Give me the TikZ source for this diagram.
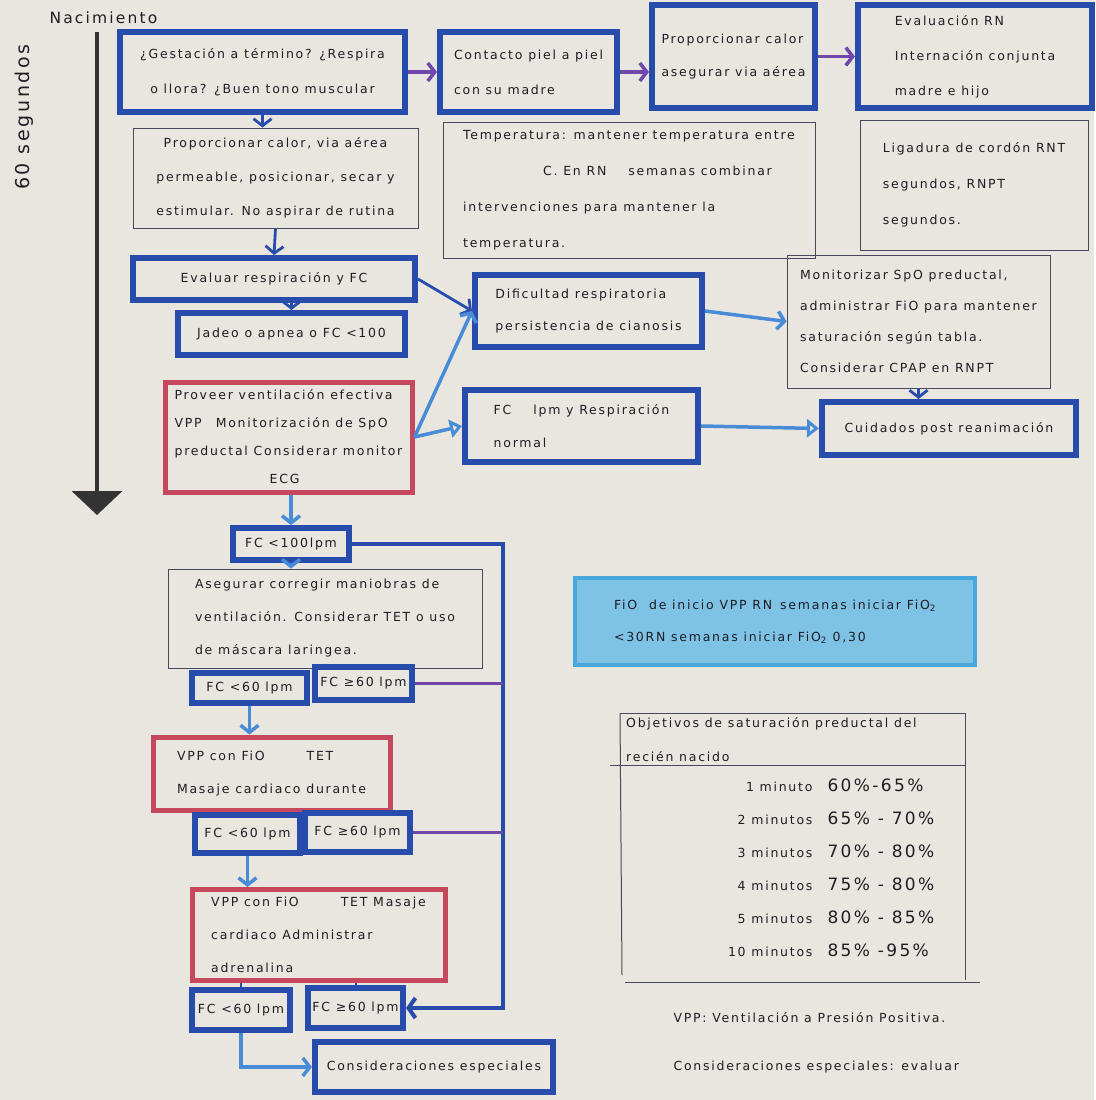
\documentclass[tikz,border=0pt]{standalone}
\usepackage{fontspec}
\setmainfont{DejaVu Sans}[LetterSpace=14]
\usetikzlibrary{arrows.meta}

\definecolor{paper}{RGB}{233,230,223}
\definecolor{penblue}{RGB}{40,76,172}
\definecolor{penred}{RGB}{198,72,92}
\definecolor{lightblue}{RGB}{72,140,215}
\definecolor{penpurple}{RGB}{112,72,172}
\definecolor{pencil}{RGB}{72,72,92}
\definecolor{ink}{RGB}{30,30,36}
\definecolor{crayon}{RGB}{70,168,220}

\newcommand\hand[1]{\fontsize{12.5}{#1}\selectfont}

\begin{document}
\begin{tikzpicture}[x=1pt,y=-1pt,
    every node/.style={text=ink},
    bluebox/.style={draw=penblue,line width=6pt,inner sep=4pt,font=\hand{33}},
    redbox/.style={draw=penred,line width=5pt,inner sep=4pt,font=\hand{33}},
    thinbox/.style={draw=pencil,line width=0.9pt,inner sep=4pt,font=\hand{34}},
    arr/.style={draw=penblue,line width=2.8pt,-{Straight Barb[length=7pt,width=18pt]}},
    parr/.style={draw=penpurple,line width=3.5pt,-{Straight Barb[length=7pt,width=18pt]}},
    larr/.style={draw=lightblue,line width=3.5pt,-{Straight Barb[length=7pt,width=18pt]}},
    ltri/.style={draw=lightblue,line width=3.5pt,-{Triangle[open,length=12pt,width=18pt]}},
    rail/.style={draw=penblue,line width=4pt},
    prail/.style={draw=penpurple,line width=2.5pt}]
  \fill[paper] (0,0) rectangle (1094,1100);

  % linea de tiempo
  \node[anchor=west,font=\fontsize{15.5}{15.5}\selectfont] (nac) at (46,18) {Nacimiento};
  \node[rotate=90,font=\fontsize{19}{19}\selectfont] (seg) at (24,117) {60 segundos};
  \coordinate (t0) at (97,32);
  \coordinate (t1) at (97,515);
  \draw[line width=4pt,black!80,-{Triangle[width=50pt,length=24pt]}] (t0) -- (t1);

  % fila superior
  \node[bluebox,minimum width=285,minimum height=80,align=center,font=\hand{35}] (gest) at (262.5,72)
    {¿Gestación a término? ¿Respira\\o llora? ¿Buen tono muscular};
  \node[bluebox,minimum width=177,minimum height=80,align=left,font=\hand{35}] (contacto) at (528.5,72)
    {Contacto piel a piel\\con su madre};
  \node[bluebox,minimum width=163,minimum height=103,align=left] (calor) at (733.5,56.5)
    {Proporcionar calor\\asegurar via aérea};
  \node[bluebox,minimum width=234,minimum height=103,align=left,font=\hand{35}] (evalrn) at (975,56.5)
    {Evaluación RN\\Internación conjunta\\madre e hijo};

  \node[thinbox,minimum width=285,minimum height=100,align=center] (prop) at (275.5,178)
    {Proporcionar calor, via aérea\\permeable, posicionar, secar y\\estimular. No aspirar de rutina};
  \node[thinbox,minimum width=372,minimum height=136,align=left,font=\hand{36}] (temp) at (629,190)
    {Temperatura: mantener temperatura entre\\\hspace*{80pt}C. En RN\hspace{22pt}semanas combinar\\intervenciones para mantener la\\temperatura.};
  \node[thinbox,minimum width=228,minimum height=130,align=left,font=\hand{36}] (ligadura) at (974,185)
    {Ligadura de cordón RNT\\segundos, RNPT\\segundos.};

  % evaluacion
  \node[bluebox,minimum width=282,minimum height=42] (evalresp) at (274,279) {Evaluar respiración y FC};
  \node[bluebox,minimum width=227,minimum height=42] (jadeo) at (291.5,334) {Jadeo o apnea o FC <100};
  \node[redbox,minimum width=247,minimum height=110,align=left,font=\hand{28}] (vent) at (288.5,437)
    {Proveer ventilación efectiva\\VPP\hspace{14pt}Monitorización de SpO\\preductal Considerar monitor\\\hspace*{95pt}ECG};
  \node[bluebox,minimum width=227,minimum height=72,align=left,font=\hand{32}] (dific) at (588.5,311)
    {Dificultad respiratoria\\persistencia de cianosis};
  \node[bluebox,minimum width=233,minimum height=72,align=left] (fcnormal) at (581.5,426)
    {FC\hspace{22pt}lpm y Respiración\\normal};
  \node[thinbox,minimum width=263,minimum height=133,align=left,font=\hand{31}] (monit) at (918.5,321.5)
    {Monitorizar SpO preductal,\\administrar FiO para mantener\\saturación según tabla.\\Considerar CPAP en RNPT};
  \node[bluebox,minimum width=254,minimum height=53] (cuidados) at (949,428.5) {Cuidados post reanimación};

  % ventilacion
  \node[bluebox,minimum width=116,minimum height=32] (fc100) at (291,544) {FC <100lpm};
  \node[thinbox,minimum width=314,minimum height=99,align=left,font=\hand{33}] (asegurar) at (325,618.5)
    {Asegurar corregir maniobras de\\ventilación. Considerar TET o uso\\de máscara laringea.};
  \node[bluebox,minimum width=115,minimum height=30] (fcmenos1) at (249.5,688) {FC <60 lpm};
  \node[bluebox,minimum width=97,minimum height=33] (fcmas1) at (363.5,683.5) {FC ≥60 lpm};
  \node[redbox,minimum width=237,minimum height=73,align=left] (vpp1) at (271.5,773.5)
    {VPP con FiO\hspace{42pt}TET\\Masaje cardiaco durante};
  \node[bluebox,minimum width=105,minimum height=38] (fcmenos2) at (247.5,834) {FC <60 lpm};
  \node[bluebox,minimum width=105,minimum height=39] (fcmas2) at (357.5,832.5) {FC ≥60 lpm};
  \node[redbox,minimum width=253,minimum height=91,align=left] (vpp2) at (318.5,935)
    {VPP con FiO\hspace{42pt}TET Masaje\\cardiaco Administrar\\adrenalina};
  \node[bluebox,minimum width=98,minimum height=40] (fcmenos3) at (241,1010) {FC <60 lpm};
  \node[bluebox,minimum width=95,minimum height=40] (fcmas3) at (355.5,1008) {FC ≥60 lpm};
  \node[bluebox,minimum width=238,minimum height=50] (consid) at (434,1067) {Consideraciones especiales};

  % FiO y tabla
  \node[draw=crayon,line width=4pt,fill=crayon!70,minimum width=400,minimum height=87,
        align=left,font=\hand{32}] (fio) at (775,621.5)
    {FiO\hspace{12pt}de inicio VPP RN\hspace{8pt}semanas iniciar FiO\textsubscript{2}\\<30RN semanas iniciar FiO\textsubscript{2} 0,30};

  \draw[pencil,line width=1pt] (620,713) -- (965,713) -- (965,980);
  \draw[pencil,line width=1pt] (620,713) -- (622,975);
  \draw[pencil,line width=1pt] (610,765) -- (965,765);
  \draw[pencil,line width=1pt] (625,982) -- (980,982);
  \node[anchor=west,align=left,font=\hand{34},inner sep=0pt] (tabla) at (626,740)
    {Objetivos de saturación preductal del\\recién nacido};
  \foreach \t/\v [count=\i] in {1 minuto/60\%-65\%, 2 minutos/65\% - 70\%, 3 minutos/70\% - 80\%,
      4 minutos/75\% - 80\%, 5 minutos/80\% - 85\%, 10 minutos/85\% -95\%} {
    \node[anchor=east,font=\hand{13}] (min\i) at (816,754+33*\i) {\t};
    \node[anchor=west,font=\fontsize{17}{17}\selectfont] (sat\i) at (824,752+33*\i) {\v};
  }

  \node[anchor=west,font=\hand{13}] (nota1) at (670,1018) {VPP: Ventilación a Presión Positiva.};
  \node[anchor=west,font=\hand{13}] (nota2) at (670,1067) {Consideraciones especiales: evaluar};

  % flechas
  \draw[parr] (gest.east) -- (contacto.west);
  \draw[parr] (contacto.east) -- (calor.west |- contacto.east);
  \draw[parr] (calor.east) -- (evalrn.west);
  \draw[arr] (gest.south) -- (gest.south |- prop.north);
  \draw[arr] (prop.south) -- (evalresp.north);
  \draw[arr] (evalresp.south -| jadeo.north) -- (jadeo.north);
  \draw[arr] (evalresp.east) -- (dific.west);
  \draw[larr] (vent.east) -- (dific.west);
  \draw[ltri] (vent.east) -- (fcnormal.west);
  \draw[larr] (dific.east) -- (monit.west);
  \draw[arr] (monit.south) -- (monit.south |- cuidados.north);
  \draw[ltri] (fcnormal.east) -- (cuidados.west);
  \draw[larr] (vent.south -| fc100.north) -- (fc100.north);
  \draw[larr] (fc100.south) -- (fc100.south |- asegurar.north);
  \draw[larr] (fcmenos1.south) -- (fcmenos1.south |- vpp1.north);
  \draw[penblue,line width=2pt] (fcmenos2.north |- vpp1.south) -- (fcmenos2.north);
  \draw[penblue,line width=2pt] (fcmas2.north |- vpp1.south) -- (fcmas2.north);
  \draw[larr] (fcmenos2.south) -- (fcmenos2.south |- vpp2.north);
  \draw[penblue,line width=2pt] (fcmenos3.north |- vpp2.south) -- (fcmenos3.north);
  \draw[penblue,line width=2pt] (fcmas3.north |- vpp2.south) -- (fcmas3.north);
  \draw[larr] (fcmenos3.south) |- (consid.west);

  % retorno
  \coordinate (retorno) at (503,537);
  \draw[rail,-{Straight Barb[length=7pt,width=20pt]}] (fc100.east) -| (retorno |- fcmas3.east) -- (fcmas3.east);
  \draw[prail] (fcmas1.east) -- (retorno |- fcmas1.east);
  \draw[prail] (fcmas2.east) -- (retorno |- fcmas2.east);
\end{tikzpicture}
\end{document}
